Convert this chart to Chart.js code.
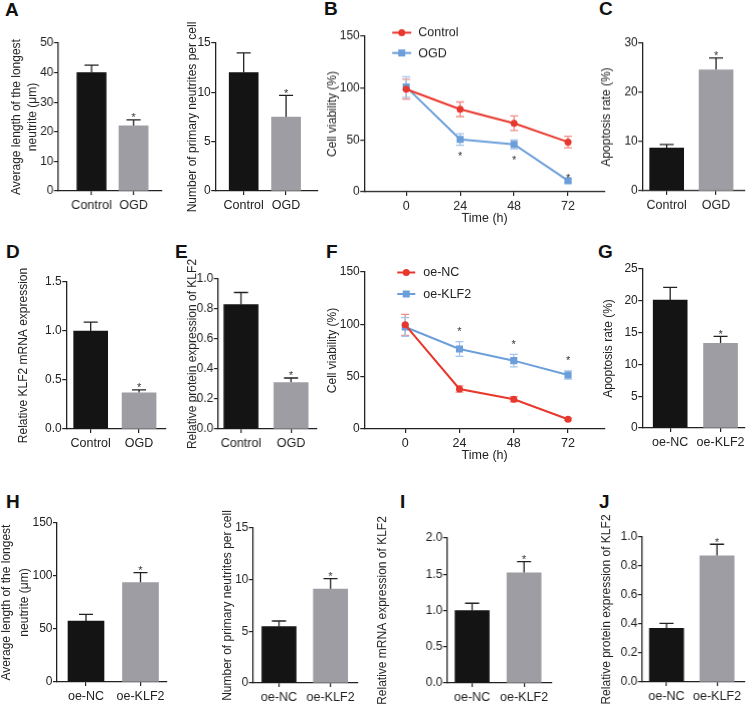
<!DOCTYPE html>
<html>
<head>
<meta charset="utf-8">
<script src="https://cdn.jsdelivr.net/npm/chart.js@4.4.1/dist/chart.umd.min.js"></script>
<style>
  body { margin: 0; background: #fff; width: 747px; height: 709px; position: relative; overflow: hidden; }
  canvas { position: absolute; }
  .tag { position: absolute; font: bold 19px "Liberation Sans", Arial, sans-serif; line-height: 19px; color: #111; }
</style>
</head>
<body>
<div class="tag" style="left:5px;top:0px">A</div>
<div class="tag" style="left:324px;top:-1px">B</div>
<div class="tag" style="left:599px;top:-1px">C</div>
<div class="tag" style="left:6px;top:242px">D</div>
<div class="tag" style="left:175px;top:242px">E</div>
<div class="tag" style="left:326px;top:242px">F</div>
<div class="tag" style="left:598px;top:242px">G</div>
<div class="tag" style="left:6px;top:492px">H</div>
<div class="tag" style="left:400px;top:492px">I</div>
<div class="tag" style="left:599px;top:492px">J</div>
<script>
// ---- data ----
const groupsOGD = ['Control', 'OGD'];
const groupsKLF2 = ['oe-NC', 'oe-KLF2'];
const timePoints = [0, 24, 48, 72];

const neuriteLenOGD = [40, 22];
const neuriteLenOGDErr = [2.5, 2.0];
const neuriteNumOGD = [12, 7.5];
const neuriteNumOGDErr = [2.0, 2.2];

const viabControl = [99, 79.6, 66.1, 48];
const viabControlErr = [9.6, 7, 7, 5.5];
const viabOGD = [101, 50.5, 45.7, 10.7];
const viabOGDErr = [10, 5.6, 4.3, 1.5];

const apoOGD = [8.7, 24.6];
const apoOGDErr = [0.7, 2.4];
const mrnaOGD = [1.0, 0.37];
const mrnaOGDErr = [0.09, 0.03];
const protOGD = [0.83, 0.31];
const protOGDErr = [0.08, 0.03];

const viabNC = [99.5, 38.2, 28.4, 9.3];
const viabNCErr = [10, 3, 2.5, 1];
const viabKLF2 = [97.5, 76.4, 65.3, 51.6];
const viabKLF2Err = [9, 7, 6, 4];

const apoKLF2 = [20.1, 13.3];
const apoKLF2Err = [2.0, 1.1];
const neuriteLenKLF2 = [57.5, 93.7];
const neuriteLenKLF2Err = [6.3, 9.4];
const neuriteNumKLF2 = [5.45, 9.1];
const neuriteNumKLF2Err = [0.55, 1.0];
const mrnaKLF2 = [1.0, 1.52];
const mrnaKLF2Err = [0.1, 0.155];
const protKLF2 = [0.37, 0.87];
const protKLF2Err = [0.035, 0.08];

// significance marks
const sigBars = [null, 'above'];
const sigB = [null, 'below', 'below', 'above'];
const sigF = [null, 'above', 'above', 'above'];

// tick labels
const ticksLenOGD = [0, 10, 20, 30, 40, 50];
const ticksNum = [0, 5, 10, 15];
const ticksViab = [0, 50, 100, 150];
const ticksApoOGD = [0, 10, 20, 30];
const ticksMrnaOGD = [0, 0.5, 1.0, 1.5];
const ticksProt = [0, 0.2, 0.4, 0.6, 0.8, 1.0];
const ticksApoKLF2 = [0, 5, 10, 15, 20, 25];
const ticksLenKLF2 = [0, 50, 100, 150];
const ticksMrnaKLF2 = [0, 0.5, 1.0, 1.5, 2.0];

// ---- style ----
const INK = '#222';
const FAM = '"Liberation Sans", Arial, Helvetica, sans-serif';
const BAR_DARK = '#141414';
const BAR_GRAY = '#9e9da3';
const RED = '#e8372c';
const BLUE = '#6c9fd9';
const MARGIN = 45;   // room above/below each plot for long axis titles

function makeCanvas(x, y, w, h) {
  const c = document.createElement('canvas');
  c.width = w; c.height = h;
  c.style.left = x + 'px'; c.style.top = y + 'px';
  c.style.width = w + 'px'; c.style.height = h + 'px';
  document.body.appendChild(c);
  return c;
}

function setTicks(values) {
  return scale => { scale.ticks = values.map(v => ({ value: v })); };
}

// error bars + asterisks
const errorPlugin = {
  id: 'errorBars',
  beforeDatasetsDraw(chart) {
    const ctx = chart.ctx, ys = chart.scales.y;
    chart.data.datasets.forEach((ds, di) => {
      if (!ds.errors) return;
      const meta = chart.getDatasetMeta(di);
      ctx.save();
      ctx.strokeStyle = ds.errorColor;
      ctx.lineWidth = 1.3;
      meta.data.forEach((el, i) => {
        const v = ds.data[i].y, e = ds.errors[i];
        const hi = ys.getPixelForValue(v + e);
        const lo = ys.getPixelForValue(ds.oneSided ? v : v - e);
        const cap = ds.capHalf;
        ctx.beginPath();
        ctx.moveTo(el.x, lo); ctx.lineTo(el.x, hi);
        ctx.moveTo(el.x - cap, hi); ctx.lineTo(el.x + cap, hi);
        if (!ds.oneSided) { ctx.moveTo(el.x - cap, lo); ctx.lineTo(el.x + cap, lo); }
        ctx.stroke();
      });
      ctx.restore();
    });
  },
  afterDatasetsDraw(chart) {
    const ctx = chart.ctx, ys = chart.scales.y;
    chart.data.datasets.forEach((ds, di) => {
      if (!ds.stars) return;
      const meta = chart.getDatasetMeta(di);
      ctx.save();
      ctx.fillStyle = '#333';
      ctx.font = '11px ' + FAM;
      ctx.textAlign = 'center';
      ctx.textBaseline = 'alphabetic';
      meta.data.forEach((el, i) => {
        const side = ds.stars[i];
        if (!side) return;
        const v = ds.data[i].y, e = ds.errors[i];
        let cy;
        if (side === 'above') cy = ys.getPixelForValue(v + e) - ds.starGap;
        else cy = ys.getPixelForValue(v - e) + 8;
        ctx.fillText('*', el.x, cy + 6.3);
      });
      ctx.restore();
    });
  }
};

// line + marker legend inside the plot
const lineLegend = {
  id: 'lineLegend',
  afterDraw(chart, args, opts) {
    if (!opts.rows) return;
    const ctx = chart.ctx, a = chart.chartArea;
    ctx.save();
    chart.data.datasets.forEach((ds, i) => {
      const y = a.top + opts.rows[i];
      const x0 = a.left + opts.x0, x1 = a.left + opts.x1, xm = (x0 + x1) / 2;
      ctx.strokeStyle = ds.borderColor; ctx.lineWidth = 2;
      ctx.beginPath(); ctx.moveTo(x0, y); ctx.lineTo(x1, y); ctx.stroke();
      ctx.fillStyle = ds.borderColor;
      if (ds.pointStyle === 'rect') ctx.fillRect(xm - 3.5, y - 3.5, 7, 7);
      else { ctx.beginPath(); ctx.arc(xm, y, 3.5, 0, Math.PI * 2); ctx.fill(); }
      ctx.fillStyle = INK;
      ctx.font = '12.5px ' + FAM;
      ctx.textBaseline = 'middle';
      ctx.fillText(ds.label, a.left + opts.tx, y + 0.5);
    });
    ctx.restore();
  }
};

function frame(p) {
  const lh = p.lh || 14.5;
  const cx = p.titleX - lh / 2 - 2;
  const cy = p.t - MARGIN;
  const cw = p.axisR + 6 - cx;
  const ch = p.b + MARGIN - cy;
  return { cx, cy, cw, ch, lh };
}

function yScale(p, f, ticks, title, dec) {
  return {
    type: 'linear', position: 'left', bounds: 'data',
    min: ticks[0], max: ticks[ticks.length - 1],
    afterBuildTicks: setTicks(ticks),
    afterFit: s => { s.width = p.axisL - f.cx; },
    grid: { drawOnChartArea: false, drawTicks: true, tickLength: 4, color: INK, lineWidth: 1.2 },
    border: { display: true, color: INK, width: 1.3 },
    ticks: { color: INK, font: { family: FAM, size: 12 }, padding: 0.5, autoSkip: false,
             callback: v => dec ? v.toFixed(dec) : String(v) },
    title: { display: true, text: title, color: INK,
             font: { family: FAM, size: 12, lineHeight: f.lh / 12 }, padding: { top: 2, bottom: 0 } }
  };
}

function xAxisBase(p, f) {
  return {
    type: 'linear', position: 'bottom', bounds: 'data', offset: false,
    afterFit: s => { s.height = f.cy + f.ch - p.b; },
    grid: { drawOnChartArea: false, drawTicks: true, tickLength: 4, color: INK, lineWidth: 1.2, offset: false },
    border: { display: true, color: INK, width: 1.3 },
    ticks: { color: INK, font: { family: FAM, size: 12.5 }, padding: 3, autoSkip: false, maxRotation: 0 }
  };
}

function barPanel(p, cats, vals, errs, ticks, title, dec) {
  const f = frame(p);
  const cv = makeCanvas(f.cx, f.cy, f.cw, f.ch);
  const step = p.c2 - p.c1;
  const x = xAxisBase(p, f);
  x.min = 1 - (p.c1 - p.axisL) / step;
  x.max = 2 + (p.axisR - p.c2) / step;
  x.afterBuildTicks = setTicks([1, 2]);
  x.ticks.callback = (v, i) => cats[i];
  new Chart(cv, {
    type: 'bar',
    data: { datasets: [{
      data: vals.map((v, i) => ({ x: i + 1, y: v })),
      backgroundColor: [BAR_DARK, BAR_GRAY],
      barThickness: p.bw, borderWidth: 0,
      errors: errs, oneSided: true, errorColor: INK, capHalf: 7,
      stars: sigBars, starGap: 5
    }] },
    options: {
      responsive: false, animation: false, events: [],
      layout: { padding: { left: 0, top: p.t - f.cy, right: f.cx + f.cw - p.axisR, bottom: 0 } },
      plugins: { legend: { display: false }, tooltip: { enabled: false } },
      scales: { x: x, y: yScale(p, f, ticks, title, dec) }
    },
    plugins: [errorPlugin]
  });
}

function linePanel(p, series, ticks, title, legend) {
  const f = frame(p);
  const cv = makeCanvas(f.cx, f.cy, f.cw, f.ch);
  const x = xAxisBase(p, f);
  const perH = (p.x72 - p.x0) / 72;
  x.min = -(p.x0 - p.axisL) / perH;
  x.max = 72 + (p.axisR - p.x72) / perH;
  x.afterBuildTicks = setTicks(timePoints);
  x.title = { display: true, text: 'Time (h)', color: INK, font: { family: FAM, size: 12.5 },
              padding: { top: 0, bottom: MARGIN - 27 - 7.5 } };
  new Chart(cv, {
    type: 'line',
    data: { datasets: series.map(s => ({
      label: s.label,
      data: timePoints.map((t, i) => ({ x: t, y: s.vals[i] })),
      borderColor: s.color, backgroundColor: s.color, borderWidth: 2, tension: 0,
      pointStyle: s.shape, pointRadius: s.shape === 'rect' ? 5 : 3.5,
      pointBackgroundColor: s.color, pointBorderWidth: 0,
      errors: s.errs, errorColor: s.errColor, capHalf: 4,
      stars: s.stars || null, starGap: s.starGap || 4
    })) },
    options: {
      responsive: false, animation: false, events: [],
      layout: { padding: { left: 0, top: p.t - f.cy, right: f.cx + f.cw - p.axisR, bottom: 0 } },
      plugins: { legend: { display: false }, tooltip: { enabled: false }, lineLegend: legend },
      scales: { x: x, y: yScale(p, f, ticks, title, 0) }
    },
    plugins: [errorPlugin, lineLegend]
  });
}

const lenTitle = ['Average length of the longest', 'neutrite (\u03bcm)'];
const numTitle = 'Number of primary neutrites per cell';

// ---- row 1 ----
barPanel({ titleX: 17, lh: 15.5, axisL: 58, axisR: 162, t: 43, b: 191, c1: 91.5, c2: 133.5, bw: 29 },
  groupsOGD, neuriteLenOGD, neuriteLenOGDErr, ticksLenOGD, lenTitle, 0);
barPanel({ titleX: 192, axisL: 215, axisR: 318, t: 43, b: 191, c1: 243.5, c2: 286, bw: 29 },
  groupsOGD, neuriteNumOGD, neuriteNumOGDErr, ticksNum, numTitle, 0);
linePanel({ titleX: 332, axisL: 364, axisR: 605, t: 36, b: 191.7, x0: 406, x72: 568 }, [
  { label: 'Control', vals: viabControl, errs: viabControlErr, color: RED, errColor: '#f08c88', shape: 'circle' },
  { label: 'OGD', vals: viabOGD, errs: viabOGDErr, color: BLUE, errColor: '#a6c5ea', shape: 'rect', stars: sigB, starGap: 4 }
], ticksViab, 'Cell viability (%)', { rows: [-3.5, 16.7], x0: 28, x1: 47, tx: 54 });
barPanel({ titleX: 606, axisL: 642, axisR: 745, t: 43.3, b: 191, c1: 666.5, c2: 716, bw: 34 },
  groupsOGD, apoOGD, apoOGDErr, ticksApoOGD, 'Apoptosis rate (%)', 0);

// ---- row 2 ----
barPanel({ titleX: 23, axisL: 66, axisR: 166, t: 282, b: 429, c1: 90.5, c2: 139, bw: 34 },
  groupsOGD, mrnaOGD, mrnaOGDErr, ticksMrnaOGD, 'Relative KLF2 mRNA expression', 1);
barPanel({ titleX: 192.5, axisL: 218, axisR: 317, t: 279, b: 429, c1: 241, c2: 291, bw: 34 },
  groupsOGD, protOGD, protOGDErr, ticksProt, 'Relative protein expression of KLF2', 1);
linePanel({ titleX: 332, axisL: 364, axisR: 605, t: 272, b: 429, x0: 405, x72: 568 }, [
  { label: 'oe-NC', vals: viabNC, errs: viabNCErr, color: RED, errColor: '#f08c88', shape: 'circle' },
  { label: 'oe-KLF2', vals: viabKLF2, errs: viabKLF2Err, color: BLUE, errColor: '#a6c5ea', shape: 'rect', stars: sigF, starGap: 13 }
], ticksViab, 'Cell viability (%)', { rows: [0.5, 22], x0: 33, x1: 51, tx: 59 });
barPanel({ titleX: 608, axisL: 642, axisR: 745, t: 269, b: 428, c1: 670, c2: 720.5, bw: 34 },
  groupsKLF2, apoKLF2, apoKLF2Err, ticksApoKLF2, 'Apoptosis rate (%)', 0);

// ---- row 3 ----
barPanel({ titleX: 7, lh: 18, axisL: 57, axisR: 167, t: 523, b: 682, c1: 86, c2: 140.5, bw: 36 },
  groupsKLF2, neuriteLenKLF2, neuriteLenKLF2Err, ticksLenKLF2, lenTitle, 0);
barPanel({ titleX: 227.5, axisL: 253, axisR: 358, t: 528, b: 683, c1: 279, c2: 330.5, bw: 34 },
  groupsKLF2, neuriteNumKLF2, neuriteNumKLF2Err, ticksNum, numTitle, 0);
barPanel({ titleX: 382.5, axisL: 447, axisR: 552, t: 538, b: 683, c1: 472, c2: 524, bw: 34 },
  groupsKLF2, mrnaKLF2, mrnaKLF2Err, ticksMrnaKLF2, 'Relative mRNA expression of KLF2', 1);
barPanel({ titleX: 606.5, axisL: 642, axisR: 745, t: 537, b: 682, c1: 666.5, c2: 717, bw: 34 },
  groupsKLF2, protKLF2, protKLF2Err, ticksProt, 'Relative protein expression of KLF2', 1);
</script>
</body>
</html>
